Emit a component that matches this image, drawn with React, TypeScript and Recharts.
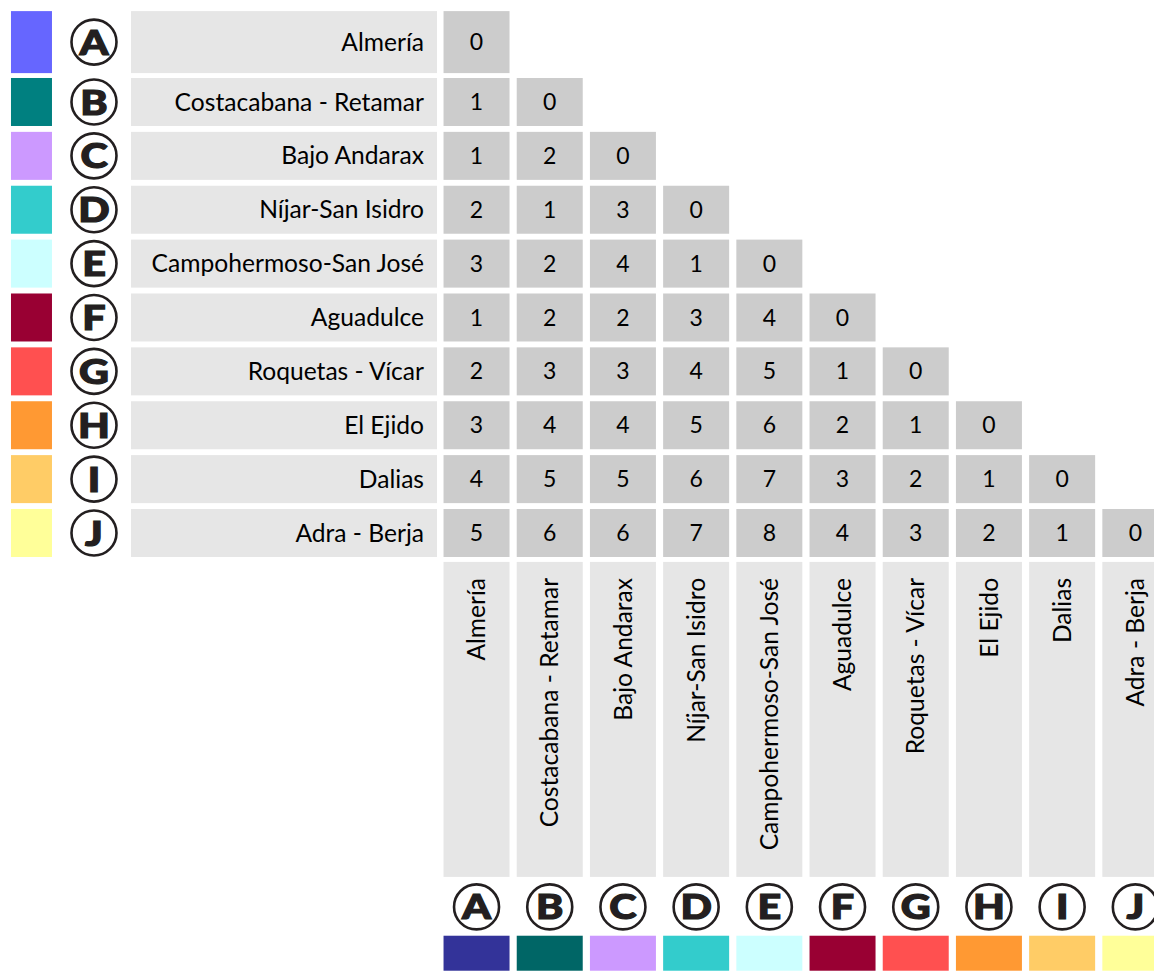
import { Scatter, ScatterChart, XAxis, YAxis } from 'recharts';

const zones = [
  'Almería',
  'Costacabana - Retamar',
  'Bajo Andarax',
  'Níjar-San Isidro',
  'Campohermoso-San José',
  'Aguadulce',
  'Roquetas - Vícar',
  'El Ejido',
  'Dalias',
  'Adra - Berja',
];
const letters = ['A', 'B', 'C', 'D', 'E', 'F', 'G', 'H', 'I', 'J'];
const rowColors = ['#6666ff', '#008080', '#cc99ff', '#33cccc', '#ccffff', '#990033', '#ff5050', '#ff9933', '#ffcc66', '#ffff99'];
const columnColors = ['#333399', '#006666', '#cc99ff', '#33cccc', '#ccffff', '#990033', '#ff5050', '#ff9933', '#ffcc66', '#ffff99'];
// lower triangle of the distance matrix, one array per row
const distances = [
  [0],
  [1, 0],
  [1, 2, 0],
  [2, 1, 3, 0],
  [3, 2, 4, 1, 0],
  [1, 2, 2, 3, 4, 0],
  [2, 3, 3, 4, 5, 1, 0],
  [3, 4, 4, 5, 6, 2, 1, 0],
  [4, 5, 5, 6, 7, 3, 2, 1, 0],
  [5, 6, 6, 7, 8, 4, 3, 2, 1, 0],
];

// layout slots on the hidden axes
const SWATCH_X = -6.08;
const BADGE_X = -5.226;
const LABEL_X = -2.63;
const HEADER_Y = 12.46;
const BOTTOM_BADGE_Y = 15.94;
const BOTTOM_SWATCH_Y = 16.8;

const FONT = 'Lato, "Open Sans", sans-serif';
const INK = '#231f20';
const CELL_W = 66;
const ROW_H = 48;
const LABEL_SIZE = 24.6;

const cellData = distances.flatMap((row, r) => row.map((value, c) => ({ x: c, y: r, value })));
const swatchData = zones.map((name, r) => ({ x: SWATCH_X, y: r, color: rowColors[r] }));
const badgeData = zones.map((name, r) => ({ x: BADGE_X, y: r, letter: letters[r] }));
const labelData = zones.map((name, r) => ({ x: LABEL_X, y: r, name }));
const headerData = zones.map((name, c) => ({ x: c, y: HEADER_Y, name }));
const bottomBadgeData = letters.map((letter, c) => ({ x: c, y: BOTTOM_BADGE_Y, letter }));
const bottomSwatchData = columnColors.map((color, c) => ({ x: c, y: BOTTOM_SWATCH_Y, color }));

// first row is drawn taller than the rest
const rowBox = (cy: number, row: number) => {
  const top = cy - ROW_H / 2 - (row === 0 ? 13 : 0);
  const bottom = cy + ROW_H / 2 + (row === 0 ? 1 : 0);
  return { top, bottom, mid: (top + bottom) / 2 };
};

const Badge = ({ cx, cy, letter }: { cx: number; cy: number; letter: string }) => (
  <g>
    <circle cx={cx} cy={cy} r={22.5} fill='#fff' stroke={INK} strokeWidth={2.6} />
    <g transform={`translate(${cx} ${cy}) scale(1.18 1)`}>
      <text
        x={0}
        y={0}
        dy='0.36em'
        textAnchor='middle'
        fontFamily={FONT}
        fontWeight={900}
        fontSize={35}
        fill={INK}
        stroke={INK}
        strokeWidth={1.2}
      >
        {letter}
      </text>
    </g>
  </g>
);

const MatrixCell = (props: any) => {
  const { cx, cy, payload } = props;
  const b = rowBox(cy, payload.y);
  return (
    <g>
      <rect x={cx - CELL_W / 2} y={b.top} width={CELL_W} height={b.bottom - b.top} fill='#cccccc' />
      <text x={cx} y={b.mid} dy='0.35em' textAnchor='middle' fontFamily={FONT} fontSize={23} fill='#000'>
        {payload.value}
      </text>
    </g>
  );
};

const RowSwatch = (props: any) => {
  const { cx, cy, payload } = props;
  const b = rowBox(cy, payload.y);
  return <rect x={cx - 20.5} y={b.top} width={41} height={b.bottom - b.top} fill={payload.color} />;
};

const RowBadge = (props: any) => {
  const { cx, cy, payload } = props;
  const b = rowBox(cy, payload.y);
  return <Badge cx={cx} cy={b.mid} letter={payload.letter} />;
};

const RowLabel = (props: any) => {
  const { cx, cy, payload } = props;
  const b = rowBox(cy, payload.y);
  return (
    <g>
      <rect x={cx - 153} y={b.top} width={306} height={b.bottom - b.top} fill='#e6e6e6' />
      <text x={cx + 140} y={b.mid} dy='0.35em' textAnchor='end' fontFamily={FONT} fontSize={LABEL_SIZE} fill='#000'>
        {payload.name}
      </text>
    </g>
  );
};

const ColumnHeader = (props: any) => {
  const { cx, cy, payload } = props;
  const top = cy - 157.5;
  const ty = top + 16;
  return (
    <g>
      <rect x={cx - CELL_W / 2} y={top} width={CELL_W} height={315} fill='#e6e6e6' />
      <text
        x={cx}
        y={ty}
        dy='0.35em'
        transform={`rotate(-90 ${cx} ${ty})`}
        textAnchor='end'
        fontFamily={FONT}
        fontSize={LABEL_SIZE}
        fill='#000'
      >
        {payload.name}
      </text>
    </g>
  );
};

const ColumnBadge = (props: any) => <Badge cx={props.cx} cy={props.cy} letter={props.payload.letter} />;

const ColumnSwatch = (props: any) => {
  const { cx, cy, payload } = props;
  return <rect x={cx - CELL_W / 2} y={cy - 17.5} width={CELL_W} height={35} fill={payload.color} />;
};

export default function App() {
  return (
    <div style={{ position: 'absolute', left: 0, top: 0 }}>
      <ScatterChart width={1154} height={971} margin={{ top: 0, right: 0, bottom: 0, left: 0 }}>
        <XAxis type='number' dataKey='x' domain={[-6.51, 9.255]} hide />
        <YAxis type='number' dataKey='y' domain={[-0.893, 17.13]} reversed hide />
        <Scatter data={swatchData} shape={(p: any) => <RowSwatch {...p} />} isAnimationActive={false} />
        <Scatter data={badgeData} shape={(p: any) => <RowBadge {...p} />} isAnimationActive={false} />
        <Scatter data={labelData} shape={(p: any) => <RowLabel {...p} />} isAnimationActive={false} />
        <Scatter data={cellData} shape={(p: any) => <MatrixCell {...p} />} isAnimationActive={false} />
        <Scatter data={headerData} shape={(p: any) => <ColumnHeader {...p} />} isAnimationActive={false} />
        <Scatter data={bottomBadgeData} shape={(p: any) => <ColumnBadge {...p} />} isAnimationActive={false} />
        <Scatter data={bottomSwatchData} shape={(p: any) => <ColumnSwatch {...p} />} isAnimationActive={false} />
      </ScatterChart>
    </div>
  );
}
